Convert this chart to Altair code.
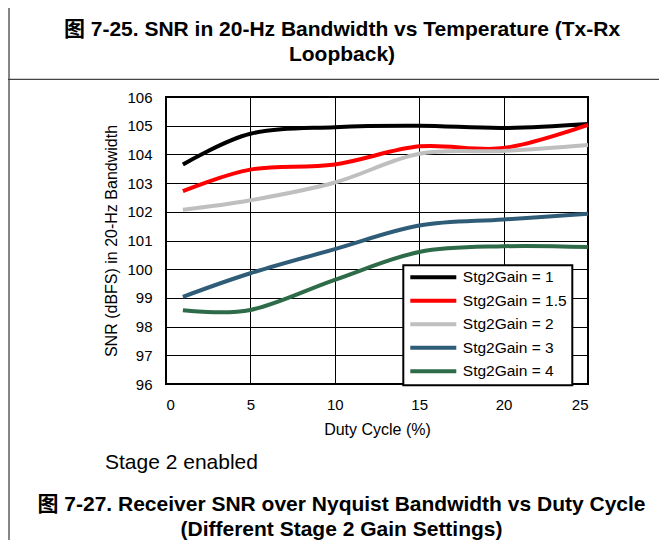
import altair as alt
import pandas as pd

# ---- data ----
duty = [1, 5, 10, 15, 20, 25]
series_names = ["Stg2Gain = 1", "Stg2Gain = 1.5", "Stg2Gain = 2", "Stg2Gain = 3", "Stg2Gain = 4"]
gain1 = [103.65, 104.72, 104.95, 105.00, 104.92, 105.06]
gain15 = [102.72, 103.47, 103.65, 104.28, 104.22, 105.03]
gain2 = [102.07, 102.40, 103.02, 104.02, 104.12, 104.33]
gain3 = [99.04, 99.86, 100.70, 101.52, 101.73, 101.93]
gain4 = [98.57, 98.58, 99.63, 100.60, 100.80, 100.77]
colors = ["#000000", "#FF0000", "#BFBFBF", "#2F5D78", "#2E6B48"]
x_ticks = [0, 5, 10, 15, 20, 25]
y_ticks = [96, 97, 98, 99, 100, 101, 102, 103, 104, 105, 106]

top_title = ["图 7-25. SNR in 20-Hz Bandwidth vs Temperature (Tx-Rx", "Loopback)"]
note_text = ["Stage 2 enabled"]
bottom_title = ["图 7-27. Receiver SNR over Nyquist Bandwidth vs Duty Cycle", "(Different Stage 2 Gain Settings)"]
x_title = "Duty Cycle (%)"
y_title = "SNR (dBFS) in 20-Hz Bandwidth"

FONT = "Liberation Sans, Arial, Noto Sans CJK SC"

all_vals = [gain1, gain15, gain2, gain3, gain4]
df = pd.DataFrame({
    "duty": duty * len(series_names),
    "snr": [v for vals in all_vals for v in vals],
    "series": [n for n in series_names for _ in duty],
})

W, H = 422, 287

lines = alt.Chart(df).mark_line(interpolate="cardinal", strokeWidth=4).encode(
    x=alt.X("duty:Q",
            scale=alt.Scale(domain=[0, 25], nice=False, zero=False),
            axis=alt.Axis(values=x_ticks, title=x_title, labelPadding=20,
                          labelBaseline="middle", titleY=45, titleBaseline="middle")),
    y=alt.Y("snr:Q",
            scale=alt.Scale(domain=[96, 106], nice=False, zero=False),
            axis=alt.Axis(values=y_ticks, title=y_title, labelPadding=14,
                          titleX=-55, titleY=H / 2, titleAngle=270,
                          titleAlign="center", titleBaseline="middle")),
    color=alt.Color("series:N",
                    scale=alt.Scale(domain=series_names, range=colors),
                    legend=alt.Legend(title=None, orient="none", legendX=237.3, legendY=168.3,
                                      symbolType="stroke", symbolSize=2116, symbolStrokeWidth=4,
                                      clipHeight=14, rowPadding=7.5, padding=5, symbolOffset=0,
                                      labelOffset=4.5, labelFontSize=15.5, labelFont=FONT,
                                      labelColor="black", strokeColor="black", fillColor="white")),
)


def text_layer(txt, x, y, size, weight, align):
    return alt.Chart(pd.DataFrame({"t": [txt]})).mark_text(
        x=x, y=y, fontSize=size, fontWeight=weight, align=align,
        baseline="middle", font=FONT, color="black"
    ).encode(text="t:N")


one = pd.DataFrame({"a": [0]})
vline = alt.Chart(one).mark_rule(color="#444444", strokeWidth=1.3).encode(
    x=alt.value(-157), y=alt.value(-89), y2=alt.value(451))
hline = alt.Chart(one).mark_rule(color="#444444", strokeWidth=1.3).encode(
    x=alt.value(-158), x2=alt.value(501), y=alt.value(-17.7))

layers = [
    vline, hline, lines,
    text_layer(top_title[0], 176, -67, 21, "bold", "center"),
    text_layer(top_title[1], 176, -42, 21, "bold", "center"),
    text_layer(note_text[0], -61, 366, 21, "normal", "left"),
    text_layer(bottom_title[0], 175.5, 408, 21, "bold", "center"),
    text_layer(bottom_title[1], 175.5, 433, 21, "bold", "center"),
]

chart = alt.layer(*layers).properties(
    width=W, height=H,
    autosize=alt.AutoSizeParams(type="none"),
    padding={"left": 158, "top": 89, "right": 71, "bottom": 156},
    background="white",
).configure_axis(
    grid=True, gridColor="black", gridWidth=1, gridOpacity=1,
    domain=False, ticks=False, tickSize=0,
    labelFont=FONT, labelFontSize=15, labelColor="black",
    titleFont=FONT, titleFontSize=16, titleFontWeight="normal", titleColor="black",
).configure_view(
    stroke="black", strokeWidth=2,
).configure_legend(
    strokeWidth=2,
)

chart.save("out.html", embed_options={"renderer": "svg", "actions": False})
